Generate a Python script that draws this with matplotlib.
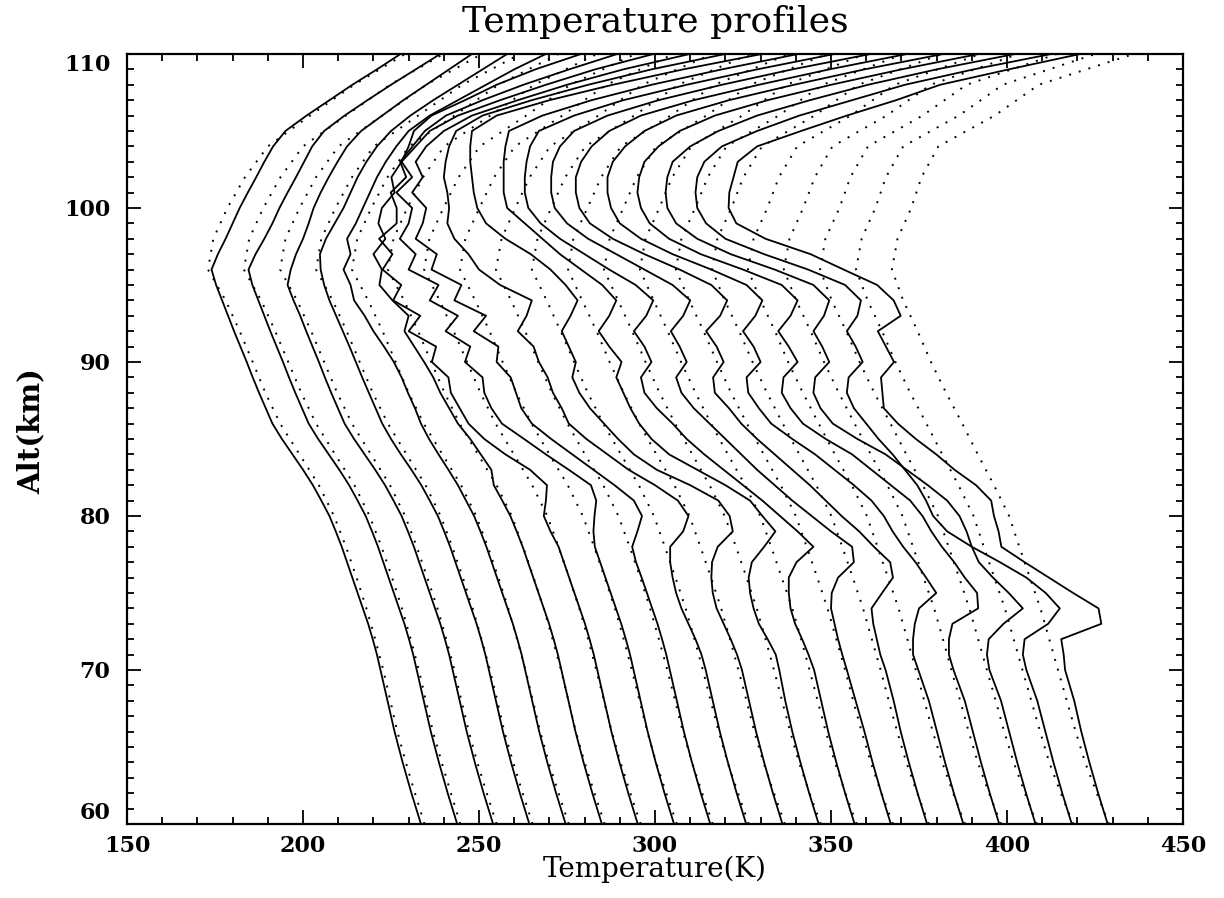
import numpy as np
import matplotlib
matplotlib.use("Agg")
import matplotlib.pyplot as plt
from matplotlib.ticker import MultipleLocator

# altitude grids (km): lidar retrievals and model
alt = [60, 62, 64, 66, 68] + list(range(70, 111))
alt_model = list(range(60, 111, 2))

# each profile is shifted by this much from the previous one
OFFSET = 10.0

# lidar temperature profiles (K), in time order
lidar_00 = [233.5, 230.8, 228.3, 226.0, 224.0, 222.0, 221.0, 219.8, 218.5, 217.0, 215.5, 214.0, 212.5, 211.0, 209.3, 207.5, 205.2, 202.8, 200.0, 197.0, 194.0, 191.3, 189.4, 187.5, 185.7, 184.0, 182.2, 180.4, 178.7, 177.0, 175.3, 174.0, 175.8, 178.0, 180.0, 182.0, 184.3, 186.7, 189.0, 191.5, 195.0, 201.0, 207.5, 214.0, 221.0, 227.7]
lidar_01 = [233.8, 231.1, 228.6, 226.3, 224.3, 222.3, 221.3, 220.1, 218.8, 217.3, 215.8, 214.3, 212.8, 211.3, 209.6, 207.8, 205.5, 203.1, 200.3, 197.3, 194.3, 191.6, 189.7, 187.8, 186.0, 184.3, 182.5, 180.7, 179.0, 177.3, 175.6, 174.5, 176.5, 179.0, 181.3, 183.3, 185.6, 188.0, 190.3, 192.6, 196.0, 201.8, 208.3, 215.0, 222.0, 229.0]
lidar_02 = [234.0, 231.3, 228.8, 226.5, 224.5, 222.5, 221.5, 220.3, 219.0, 217.5, 216.0, 214.5, 213.0, 211.5, 209.8, 208.0, 205.7, 203.3, 200.5, 197.5, 194.5, 191.8, 189.9, 188.0, 186.2, 184.5, 182.7, 180.9, 179.2, 177.3, 175.6, 176.5, 178.0, 180.0, 181.6, 183.0, 185.0, 187.3, 189.8, 192.5, 196.5, 202.5, 208.5, 215.0, 221.5, 228.0]
lidar_03 = [234.3, 231.6, 229.1, 226.8, 224.8, 222.8, 221.8, 220.6, 219.3, 217.8, 216.3, 214.8, 213.3, 211.8, 210.1, 208.3, 206.0, 203.6, 200.8, 197.8, 195.0, 192.5, 190.6, 188.7, 186.8, 185.0, 183.2, 181.3, 179.4, 177.5, 176.0, 175.0, 174.8, 176.5, 179.0, 181.5, 183.5, 185.5, 188.0, 191.0, 195.0, 200.5, 207.0, 214.0, 221.0, 228.0]
lidar_04 = [234.6, 231.9, 229.4, 227.1, 225.1, 223.1, 222.1, 220.9, 219.6, 218.1, 216.6, 215.1, 213.6, 212.1, 210.4, 208.6, 206.3, 204.0, 201.3, 198.5, 195.8, 193.5, 191.8, 189.8, 188.0, 185.8, 183.0, 180.0, 177.5, 174.5, 173.5, 171.5, 173.5, 172.5, 175.0, 177.0, 179.0, 181.0, 183.5, 186.5, 190.0, 196.0, 204.0, 212.0, 220.0, 229.0]
lidar_05 = [234.9, 232.2, 229.7, 227.4, 225.4, 223.4, 222.4, 221.2, 219.9, 218.4, 216.9, 215.4, 213.9, 212.4, 210.7, 208.9, 206.6, 204.2, 203.5, 200.5, 197.5, 194.0, 191.5, 189.0, 187.0, 184.4, 181.6, 178.8, 180.0, 175.4, 171.7, 172.4, 170.0, 173.4, 171.4, 172.4, 176.0, 175.1, 178.0, 180.0, 181.5, 186.5, 196.0, 205.0, 216.0, 229.0]
lidar_06 = [235.1, 232.4, 229.9, 227.6, 225.6, 223.6, 222.6, 221.4, 220.1, 218.6, 217.1, 215.6, 214.1, 212.6, 210.3, 208.4, 209.0, 209.3, 204.5, 197.5, 191.5, 187.0, 184.5, 182.0, 181.3, 176.6, 177.8, 170.0, 173.3, 165.6, 167.9, 162.6, 165.4, 161.6, 166.6, 166.6, 164.9, 169.3, 167.6, 171.1, 174.6, 180.6, 191.0, 202.6, 215.6, 229.3]
lidar_07 = [235.4, 232.7, 230.2, 227.9, 225.9, 223.9, 222.9, 221.7, 220.4, 218.9, 217.4, 215.9, 214.4, 212.9, 212.5, 212.8, 213.3, 211.8, 205.5, 199.0, 192.8, 186.5, 183.5, 181.5, 181.0, 176.0, 177.5, 170.5, 174.0, 166.0, 168.5, 160.0, 162.0, 157.5, 160.0, 161.0, 156.5, 161.0, 158.0, 162.0, 166.0, 174.0, 186.0, 199.0, 213.0, 229.6]
lidar_08 = [235.7, 233.0, 230.5, 228.2, 226.2, 224.2, 223.2, 222.0, 220.7, 219.2, 217.7, 216.2, 214.6, 213.5, 215.0, 216.3, 214.0, 208.5, 202.5, 196.5, 190.5, 185.0, 182.0, 180.5, 179.0, 175.0, 175.5, 168.5, 172.0, 163.0, 165.0, 156.5, 158.0, 152.0, 154.0, 155.0, 151.0, 154.0, 152.0, 155.0, 160.0, 168.0, 181.0, 195.0, 211.0, 229.9]
lidar_09 = [235.9, 233.2, 230.7, 228.4, 226.4, 224.4, 223.2, 221.5, 219.5, 217.5, 216.0, 215.0, 214.3, 214.3, 218.0, 219.5, 216.5, 210.0, 202.5, 196.5, 190.5, 185.5, 183.5, 181.0, 179.5, 177.0, 175.5, 171.0, 173.5, 175.0, 166.0, 160.0, 157.0, 153.0, 151.0, 151.5, 151.0, 150.0, 150.5, 151.5, 153.5, 161.0, 175.0, 191.0, 209.0, 230.0]
lidar_10 = [236.2, 233.5, 231.0, 228.7, 226.7, 224.7, 223.3, 221.5, 219.5, 217.5, 216.4, 216.0, 216.2, 217.8, 222.1, 221.2, 218.0, 210.0, 200.5, 194.0, 189.5, 185.5, 181.5, 178.5, 176.5, 177.5, 175.5, 173.5, 176.0, 178.0, 174.6, 170.3, 164.7, 157.5, 152.0, 149.5, 148.5, 148.0, 147.5, 147.5, 148.0, 155.0, 170.0, 188.0, 208.0, 230.4]
lidar_11 = [236.5, 233.8, 231.3, 229.0, 227.0, 225.3, 224.3, 222.0, 219.5, 218.0, 217.0, 216.6, 217.5, 221.0, 224.2, 220.5, 217.0, 210.0, 202.0, 194.0, 189.0, 185.5, 183.0, 181.0, 179.0, 180.5, 177.0, 174.0, 177.0, 179.0, 175.0, 169.0, 163.0, 158.0, 153.0, 148.0, 147.0, 147.0, 147.0, 147.5, 148.5, 158.0, 172.0, 189.0, 209.0, 230.7]
lidar_12 = [236.7, 234.0, 231.5, 229.2, 227.2, 225.2, 223.6, 221.8, 219.8, 218.5, 218.0, 218.0, 220.2, 225.0, 220.5, 215.5, 210.5, 205.0, 199.5, 194.0, 189.0, 185.0, 180.5, 177.0, 176.0, 179.0, 177.0, 174.0, 177.5, 179.5, 174.5, 167.0, 160.0, 153.0, 147.5, 144.0, 143.0, 143.0, 143.5, 144.5, 147.0, 157.0, 171.0, 189.0, 209.0, 231.0]
lidar_13 = [237.0, 234.3, 231.8, 229.5, 227.0, 224.5, 223.2, 222.0, 221.0, 220.0, 220.2, 222.0, 226.5, 226.0, 220.0, 214.5, 209.0, 204.0, 199.0, 194.5, 190.0, 185.5, 181.0, 177.5, 176.0, 179.0, 177.0, 174.5, 178.0, 180.0, 175.0, 167.0, 159.0, 151.0, 145.0, 141.5, 140.5, 140.5, 141.0, 143.0, 147.0, 156.5, 171.0, 189.0, 209.0, 231.3]
lidar_14 = [237.3, 234.6, 232.1, 229.8, 227.8, 225.5, 224.0, 223.0, 222.0, 221.5, 224.5, 227.6, 226.8, 222.2, 218.0, 213.0, 208.5, 204.0, 199.0, 194.0, 189.0, 184.5, 181.0, 177.0, 176.5, 179.5, 177.5, 174.5, 178.5, 180.5, 176.0, 167.0, 157.0, 148.0, 141.5, 138.5, 137.5, 137.5, 139.0, 142.0, 147.0, 156.0, 171.0, 189.5, 209.5, 231.6]
lidar_15 = [237.6, 234.9, 232.4, 230.1, 227.8, 224.8, 223.3, 223.3, 223.8, 225.0, 229.9, 227.0, 224.0, 220.5, 217.5, 215.0, 211.5, 206.5, 201.0, 195.5, 189.0, 183.0, 179.5, 176.5, 176.0, 180.0, 178.0, 175.0, 178.5, 180.5, 176.0, 166.0, 155.0, 146.0, 140.0, 137.5, 136.5, 136.5, 138.0, 141.5, 147.0, 156.0, 171.0, 189.5, 209.5, 231.9]
lidar_16 = [237.8, 235.1, 232.6, 230.3, 228.0, 224.8, 223.5, 223.5, 224.5, 231.8, 231.5, 228.0, 225.0, 221.5, 218.5, 216.0, 212.5, 207.0, 201.5, 196.0, 188.5, 182.0, 178.5, 176.0, 176.5, 180.5, 178.0, 175.0, 178.5, 180.5, 176.0, 165.0, 153.0, 144.0, 138.5, 136.0, 135.0, 135.5, 137.0, 141.0, 147.0, 157.0, 172.0, 190.0, 210.0, 232.0]
lidar_17 = [238.1, 235.4, 232.9, 230.6, 228.3, 225.0, 224.3, 224.8, 229.0, 234.5, 230.5, 226.0, 222.0, 220.0, 218.5, 216.5, 213.0, 207.5, 201.5, 195.5, 187.5, 180.5, 177.0, 175.0, 175.5, 179.5, 177.5, 175.0, 178.0, 179.5, 175.0, 164.0, 151.5, 142.0, 136.0, 133.5, 133.0, 133.5, 135.0, 140.0, 148.0, 159.0, 174.0, 190.5, 210.0, 232.3]
lidar_18 = [238.4, 235.7, 233.2, 230.9, 228.6, 225.5, 224.5, 225.0, 231.7, 235.0, 231.0, 225.5, 218.0, 210.0, 203.0, 199.0, 197.0, 194.5, 191.0, 187.5, 183.5, 180.0, 176.5, 174.5, 175.0, 179.0, 177.0, 174.5, 177.5, 178.5, 174.0, 163.5, 151.0, 140.0, 134.5, 132.0, 131.5, 132.0, 134.0, 139.0, 149.0, 161.0, 176.0, 191.0, 210.5, 232.6]
lidar_19 = [238.6, 235.9, 233.4, 231.1, 229.1, 226.5, 226.1, 225.4, 236.8, 236.0, 228.8, 221.9, 215.0, 208.4, 207.6, 206.3, 205.5, 201.2, 195.1, 189.9, 184.1, 179.0, 175.0, 174.6, 174.2, 177.9, 175.6, 173.3, 179.8, 177.8, 173.1, 163.6, 154.2, 141.4, 133.1, 130.9, 131.1, 132.3, 133.5, 139.0, 151.5, 164.5, 178.5, 191.0, 210.5, 230.8]

# model temperature profiles (K) for the same times
model_00 = [234.5, 231.8, 229.2, 226.8, 224.8, 222.8, 220.5, 218.0, 215.2, 212.2, 208.8, 204.5, 199.0, 193.5, 189.3, 185.7, 182.0, 178.0, 173.0, 174.5, 178.5, 183.5, 190.0, 202.0, 214.5, 229.0]
model_01 = [234.7, 232.0, 229.4, 226.9, 224.9, 222.9, 220.6, 218.1, 215.3, 212.3, 208.9, 204.6, 199.1, 193.7, 189.5, 185.8, 182.1, 178.1, 173.2, 174.7, 178.7, 183.6, 190.0, 202.2, 214.7, 229.9]
model_02 = [235.0, 232.2, 229.5, 227.1, 225.0, 223.0, 220.7, 218.2, 215.3, 212.3, 209.0, 204.7, 199.3, 193.9, 189.7, 186.0, 182.3, 178.3, 173.5, 175.0, 179.0, 183.7, 190.1, 202.5, 215.0, 230.8]
model_03 = [235.2, 232.4, 229.7, 227.2, 225.2, 223.1, 220.7, 218.2, 215.4, 212.4, 209.1, 204.8, 199.4, 194.1, 189.8, 186.1, 182.4, 178.4, 173.7, 175.2, 179.2, 183.9, 190.1, 202.7, 215.2, 231.7]
model_04 = [235.5, 232.6, 229.8, 227.4, 225.3, 223.2, 220.8, 218.3, 215.5, 212.5, 209.2, 204.9, 199.6, 194.3, 190.0, 186.3, 182.6, 178.5, 173.9, 175.4, 179.4, 184.0, 190.1, 203.0, 215.5, 232.6]
model_05 = [235.7, 232.8, 230.0, 227.5, 225.4, 223.3, 220.9, 218.4, 215.5, 212.5, 209.3, 205.0, 199.7, 194.5, 190.2, 186.4, 182.7, 178.7, 174.1, 175.7, 179.6, 184.1, 190.1, 203.2, 215.7, 233.5]
model_06 = [235.9, 233.0, 230.2, 227.7, 225.5, 223.3, 221.0, 218.5, 215.6, 212.6, 209.4, 205.1, 199.9, 194.7, 190.4, 186.6, 182.8, 178.8, 174.4, 175.9, 179.9, 184.2, 190.2, 203.4, 215.9, 234.4]
model_07 = [236.2, 233.2, 230.3, 227.8, 225.6, 223.4, 221.1, 218.6, 215.7, 212.7, 209.5, 205.2, 200.0, 194.9, 190.6, 186.7, 183.0, 178.9, 174.6, 176.1, 180.1, 184.3, 190.2, 203.7, 216.2, 235.3]
model_08 = [236.4, 233.4, 230.5, 227.9, 225.7, 223.5, 221.1, 218.6, 215.8, 212.8, 209.6, 205.3, 200.1, 195.1, 190.7, 186.8, 183.1, 179.1, 174.8, 176.4, 180.3, 184.4, 190.2, 203.9, 216.4, 236.2]
model_09 = [236.6, 233.6, 230.6, 228.1, 225.8, 223.6, 221.2, 218.7, 215.8, 212.8, 209.7, 205.4, 200.3, 195.3, 190.9, 187.0, 183.2, 179.2, 175.0, 176.6, 180.5, 184.5, 190.2, 204.1, 216.6, 237.1]
model_10 = [236.9, 233.8, 230.8, 228.2, 226.0, 223.7, 221.3, 218.8, 215.9, 212.9, 209.8, 205.5, 200.4, 195.5, 191.1, 187.1, 183.4, 179.3, 175.3, 176.8, 180.8, 184.7, 190.3, 204.4, 216.9, 238.0]
model_11 = [237.1, 233.9, 230.9, 228.4, 226.1, 223.8, 221.4, 218.9, 216.0, 213.0, 209.8, 205.5, 200.6, 195.7, 191.3, 187.3, 183.5, 179.5, 175.5, 177.1, 181.0, 184.8, 190.3, 204.6, 217.1, 238.8]
model_12 = [237.3, 234.1, 231.1, 228.5, 226.2, 223.9, 221.5, 219.0, 216.0, 213.0, 209.9, 205.6, 200.7, 195.9, 191.5, 187.4, 183.6, 179.6, 175.7, 177.3, 181.2, 184.9, 190.3, 204.8, 217.3, 239.7]
model_13 = [237.6, 234.3, 231.3, 228.7, 226.3, 224.0, 221.5, 219.0, 216.1, 213.1, 210.0, 205.7, 200.9, 196.1, 191.6, 187.6, 183.8, 179.7, 175.9, 177.5, 181.4, 185.0, 190.3, 205.1, 217.6, 240.6]
model_14 = [237.8, 234.5, 231.4, 228.8, 226.4, 224.1, 221.6, 219.1, 216.2, 213.2, 210.1, 205.8, 201.0, 196.3, 191.8, 187.7, 183.9, 179.8, 176.2, 177.7, 181.7, 185.1, 190.4, 205.3, 217.8, 241.5]
model_15 = [238.1, 234.7, 231.6, 228.9, 226.5, 224.1, 221.7, 219.2, 216.2, 213.2, 210.2, 205.9, 201.1, 196.5, 192.0, 187.8, 184.1, 180.0, 176.4, 178.0, 181.9, 185.2, 190.4, 205.6, 218.1, 242.4]
model_16 = [238.3, 234.9, 231.7, 229.1, 226.7, 224.2, 221.8, 219.3, 216.3, 213.3, 210.3, 206.0, 201.3, 196.7, 192.2, 188.0, 184.2, 180.1, 176.6, 178.2, 182.1, 185.4, 190.4, 205.8, 218.3, 243.3]
model_17 = [238.5, 235.1, 231.9, 229.2, 226.8, 224.3, 221.8, 219.3, 216.4, 213.4, 210.4, 206.1, 201.4, 196.9, 192.3, 188.1, 184.3, 180.2, 176.9, 178.4, 182.4, 185.5, 190.5, 206.0, 218.5, 244.2]
model_18 = [238.8, 235.3, 232.0, 229.4, 226.9, 224.4, 221.9, 219.4, 216.4, 213.4, 210.5, 206.2, 201.6, 197.1, 192.5, 188.3, 184.5, 180.4, 177.1, 178.7, 182.6, 185.6, 190.5, 206.3, 218.8, 245.1]
model_19 = [239.0, 235.5, 232.2, 229.5, 227.0, 224.5, 222.0, 219.5, 216.5, 213.5, 210.6, 206.3, 201.7, 197.3, 192.7, 188.4, 184.6, 180.5, 177.3, 178.9, 182.8, 185.7, 190.5, 206.5, 219.0, 246.0]

lidar = [lidar_00, lidar_01, lidar_02, lidar_03, lidar_04, lidar_05, lidar_06,
         lidar_07, lidar_08, lidar_09, lidar_10, lidar_11, lidar_12, lidar_13,
         lidar_14, lidar_15, lidar_16, lidar_17, lidar_18, lidar_19]
model = [model_00, model_01, model_02, model_03, model_04, model_05, model_06,
         model_07, model_08, model_09, model_10, model_11, model_12, model_13,
         model_14, model_15, model_16, model_17, model_18, model_19]

plt.rcParams["font.family"] = ["DejaVu Serif"]

fig = plt.figure(figsize=(12.24, 8.98), dpi=100)
ax = fig.add_axes([0.1038, 0.0824, 0.8627, 0.8575])

for i, (obs, mod) in enumerate(zip(lidar, model)):
    shift = OFFSET * i
    ax.plot(np.array(mod) + shift, alt_model, color="black", lw=1.4,
            ls=(0, (1, 4.2)))
    ax.plot(np.array(obs) + shift, alt, color="black", lw=1.3)

ax.set_xlim(150, 450)
ax.set_ylim(60, 110)
ax.set_xticks(range(150, 451, 50))
ax.set_yticks(range(60, 111, 10))
ax.xaxis.set_minor_locator(MultipleLocator(10))
ax.yaxis.set_minor_locator(MultipleLocator(1))
ax.tick_params(which="both", direction="in", top=True, right=True, width=1.3)
ax.tick_params(which="major", length=10)
ax.tick_params(which="minor", length=5)
ax.tick_params(axis="x", pad=8)
ax.tick_params(axis="y", pad=12)
for s in ax.spines.values():
    s.set_linewidth(1.6)

for lab in ax.get_xticklabels() + ax.get_yticklabels():
    lab.set_fontsize(16)
    lab.set_fontweight("bold")
# end labels of the altitude axis sit inside the frame
ylabels = ax.get_yticklabels()
ylabels[0].set_verticalalignment("bottom")
ylabels[-1].set_verticalalignment("top")

fig.text(0.535, 0.975, "Temperature profiles", ha="center", va="center",
         fontsize=26)
fig.text(0.535, 0.032, "Temperature(K)", ha="center", va="center",
         fontsize=20)
fig.text(0.025, 0.52, "Alt(km)", ha="center", va="center", rotation=90,
         fontsize=21, fontweight="bold")

fig.savefig("out.png", dpi=100)
